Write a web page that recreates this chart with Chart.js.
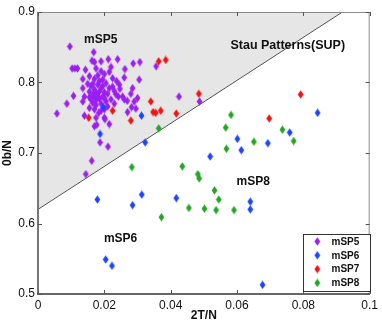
<!DOCTYPE html>
<html>
<head>
<meta charset="utf-8">
<script src="https://cdn.jsdelivr.net/npm/chart.js@4.4.1/dist/chart.umd.min.js"></script>
<style>
html,body{margin:0;padding:0;background:#fff;}
#wrap{width:382px;height:327px;}
</style>
</head>
<body>
<div id="wrap"><canvas id="c" width="382" height="327"></canvas></div>
<script>
// ---------- data ----------
const mSP5 = [
 [0.0096,0.851],[0.0168,0.843],[0.0057,0.756],[0.0087,0.770],[0.0107,0.781],
 [0.0103,0.820],[0.0111,0.820],[0.0119,0.820],[0.0143,0.818],[0.0163,0.831],[0.0170,0.829],
 [0.0190,0.830],[0.0212,0.833],[0.0240,0.833],[0.0287,0.827],[0.0307,0.829],[0.0356,0.823],
 [0.0175,0.820],[0.0220,0.822],[0.0215,0.815],[0.0225,0.806],[0.0260,0.807],[0.0305,0.804],
 [0.0262,0.819],[0.0237,0.802],[0.0135,0.805],[0.0155,0.809],[0.0170,0.805],[0.0195,0.804],
 [0.0180,0.797],[0.0205,0.799],[0.0215,0.792],[0.0225,0.794],[0.0245,0.797],[0.0285,0.792],
 [0.0280,0.784],[0.0135,0.792],[0.0140,0.780],[0.0155,0.787],[0.0165,0.783],[0.0185,0.787],
 [0.0195,0.780],[0.0235,0.783],[0.0255,0.780],[0.0300,0.778],[0.0135,0.773],[0.0155,0.779],
 [0.0170,0.779],[0.0185,0.777],[0.0165,0.771],[0.0175,0.768],[0.0205,0.773],[0.0210,0.766],
 [0.0260,0.776],[0.0290,0.773],[0.0270,0.758],[0.0295,0.763],[0.0140,0.753],[0.0175,0.750],
 [0.0200,0.750],[0.0215,0.741],[0.0170,0.738],[0.0183,0.757],[0.0282,0.765],[0.0269,0.774],
 [0.0242,0.780],[0.0247,0.791],[0.0155,0.764],[0.0190,0.760],[0.0177,0.740],[0.0202,0.748],
 [0.0187,0.715],[0.0211,0.709],[0.0162,0.689],[0.0144,0.670],[0.0425,0.780],[0.0487,0.773],
 [0.0160,0.795],[0.0170,0.790],[0.0175,0.785],[0.0180,0.780],[0.0190,0.792],[0.0200,0.786],
 [0.0165,0.798],[0.0185,0.802],[0.0195,0.795],[0.0175,0.775],[0.0190,0.770],[0.0200,0.778],
 [0.0210,0.784],[0.0160,0.776],[0.0180,0.810],[0.0200,0.812],[0.0190,0.816],[0.0150,0.798],
 [0.0230,0.788],[0.0220,0.776],[0.0170,0.762],[0.0200,0.762],[0.0230,0.770]
];
const mSP6 = [
 [0.0197,0.765],[0.0312,0.753],[0.0187,0.727],[0.0323,0.715],[0.0843,0.757],[0.0759,0.729],
 [0.0601,0.720],[0.0613,0.704],[0.0693,0.714],[0.0519,0.695],[0.0179,0.634],[0.0313,0.641],
 [0.0285,0.626],[0.0417,0.636],[0.0204,0.549],[0.0223,0.540],[0.0640,0.631],[0.0640,0.620],
 [0.0677,0.513]
];
const mSP7 = [
 [0.0364,0.830],[0.0385,0.832],[0.0153,0.750],[0.0225,0.760],[0.0340,0.773],[0.0280,0.746],
 [0.0347,0.758],[0.0355,0.757],[0.0370,0.760],[0.0417,0.756],[0.0485,0.784],[0.0792,0.783],
 [0.0697,0.749]
];
const mSP8 = [
 [0.0364,0.735],[0.0582,0.754],[0.0566,0.736],[0.0568,0.706],[0.0651,0.716],[0.0737,0.733],
 [0.0771,0.717],[0.0435,0.681],[0.0283,0.680],[0.0482,0.670],[0.0486,0.664],[0.0532,0.647],
 [0.0545,0.634],[0.0455,0.622],[0.0502,0.621],[0.0537,0.619],[0.0591,0.619],[0.0372,0.609]
];
const boundaryX = [0, 0.0918];
const boundaryY = [0.62, 0.9];
const xTicks = [0, 0.02, 0.04, 0.06, 0.08, 0.1];
const xTickLabels = ['0', '0.02', '0.04', '0.06', '0.08', '0.1'];
const yTicks = [0.5, 0.6, 0.7, 0.8, 0.9];
const yTickLabels = ['0.5', '0.6', '0.7', '0.8', '0.9'];
const seriesNames = ['mSP5', 'mSP6', 'mSP7', 'mSP8'];
const seriesColors = ['#9b1ef5', '#1f44ff', '#f21212', '#23a523'];
const annotations = [
  {text: 'mSP5', x: 0.0189, y: 0.861, size: 12},
  {text: 'Stau Patterns(SUP)', x: 0.0753, y: 0.852, size: 12.5},
  {text: 'mSP8', x: 0.0649, y: 0.659, size: 12},
  {text: 'mSP6', x: 0.0249, y: 0.578, size: 12}
];

const FONT = '"Liberation Sans", Arial, Helvetica, sans-serif';

function diamond(color) {
  const c = document.createElement('canvas');
  c.width = 7; c.height = 9;
  const g = c.getContext('2d');
  g.fillStyle = color;
  g.beginPath();
  g.moveTo(3.5, 0.3); g.lineTo(6.4, 4.5); g.lineTo(3.5, 8.7); g.lineTo(0.6, 4.5);
  g.closePath(); g.fill();
  return c;
}
const markers = seriesColors.map(diamond);
const allSeries = [mSP5, mSP6, mSP7, mSP8];

const datasets = allSeries.map((s, i) => ({
  label: seriesNames[i],
  data: s.map(p => ({x: p[0], y: p[1]})),
  pointStyle: markers[i],
  backgroundColor: seriesColors[i],
  borderColor: seriesColors[i],
  order: 4 - i
}));
datasets.push({
  label: 'boundary',
  type: 'line',
  data: boundaryX.map((x, i) => ({x: x, y: boundaryY[i]})),
  showLine: true,
  borderColor: '#555555',
  borderWidth: 1,
  pointRadius: 0,
  fill: 'end',
  backgroundColor: '#e6e6e6',
  order: 10
});

const framePlugin = {
  id: 'frame',
  afterDraw(chart) {
    const {ctx, chartArea: a, scales: {x, y}} = chart;
    ctx.save();
    // frame
    ctx.lineWidth = 1;
    ctx.strokeStyle = '#8a8a8a';
    ctx.beginPath();
    ctx.moveTo(a.left, a.top + 0.5); ctx.lineTo(a.right, a.top + 0.5);
    ctx.moveTo(a.right - 0.5, a.top); ctx.lineTo(a.right - 0.5, a.bottom);
    ctx.stroke();
    ctx.strokeStyle = '#777777';
    ctx.lineWidth = 2;
    ctx.beginPath();
    ctx.moveTo(a.left, a.top); ctx.lineTo(a.left, a.bottom);
    ctx.stroke();
    ctx.strokeStyle = '#333333';
    ctx.lineWidth = 1.5;
    ctx.beginPath();
    ctx.moveTo(a.left - 1, a.bottom); ctx.lineTo(a.right, a.bottom);
    ctx.stroke();
    // ticks inward
    ctx.strokeStyle = '#555555';
    ctx.lineWidth = 1;
    ctx.beginPath();
    xTicks.forEach(v => {
      const px = Math.round(x.getPixelForValue(v)) + 0.5;
      ctx.moveTo(px, a.bottom); ctx.lineTo(px, a.bottom - 4);
      ctx.moveTo(px, a.top); ctx.lineTo(px, a.top + 4);
    });
    yTicks.forEach(v => {
      const py = Math.round(y.getPixelForValue(v)) + 0.5;
      ctx.moveTo(a.left, py); ctx.lineTo(a.left + 4, py);
      ctx.moveTo(a.right, py); ctx.lineTo(a.right - 4, py);
    });
    ctx.stroke();
    // annotations
    ctx.fillStyle = '#111';
    ctx.textAlign = 'center';
    ctx.textBaseline = 'middle';
    annotations.forEach(t => {
      ctx.font = 'bold ' + t.size + 'px ' + FONT;
      ctx.fillText(t.text, x.getPixelForValue(t.x), y.getPixelForValue(t.y));
    });
    // legend
    const lx = 303, ly = 234, lw = 67, lh = 57;
    ctx.fillStyle = '#fff';
    ctx.fillRect(lx, ly, lw, lh);
    ctx.strokeStyle = '#333';
    ctx.lineWidth = 1;
    ctx.strokeRect(lx + 0.5, ly + 0.5, lw, lh);
    ctx.font = 'bold 10px ' + FONT;
    ctx.textAlign = 'left';
    ctx.fillStyle = '#111';
    seriesNames.forEach((n, i) => {
      const ry = ly + 7.5 + i * 13.8;
      ctx.drawImage(markers[i], 317.3 - 3.5, ry - 4.5);
      ctx.fillText(n, 331.5, ry + 0.5);
    });
    ctx.restore();
  }
};

new Chart(document.getElementById('c'), {
  type: 'scatter',
  data: {datasets: datasets},
  options: {
    responsive: false,
    animation: false,
    devicePixelRatio: 1,
    layout: {padding: {left: 0, top: 12, right: 11, bottom: 0}},
    plugins: {legend: {display: false}, tooltip: {enabled: false}},
    elements: {point: {radius: 3.5}},
    scales: {
      x: {
        type: 'linear', min: 0, max: 0.1,
        afterFit: s => { s.height = 33; },
        afterBuildTicks: s => { s.ticks = xTicks.map(v => ({value: v})); },
        grid: {display: false, drawTicks: false},
        border: {display: false},
        ticks: {
          padding: 4, color: '#111', maxRotation: 0,
          font: {family: FONT, size: 12},
          callback: (v) => xTickLabels[xTicks.indexOf(v)] ?? ''
        },
        title: {display: true, text: '2T/N', color: '#111',
          font: {family: FONT, size: 12, weight: 'bold'}, padding: {top: 0, bottom: 4}}
      },
      y: {
        type: 'linear', min: 0.5, max: 0.9,
        afterFit: s => { s.width = 38; },
        afterBuildTicks: s => { s.ticks = yTicks.map(v => ({value: v})); },
        grid: {display: false, drawTicks: false},
        border: {display: false},
        ticks: {
          padding: 3, color: '#111',
          font: {family: FONT, size: 12},
          callback: (v) => yTickLabels[yTicks.indexOf(v)] ?? ''
        },
        title: {display: true, text: '0b/N', color: '#111',
          font: {family: FONT, size: 12, weight: 'bold'}, padding: {top: 0, bottom: 0}}
      }
    }
  },
  plugins: [framePlugin]
});
</script>
</body>
</html>
